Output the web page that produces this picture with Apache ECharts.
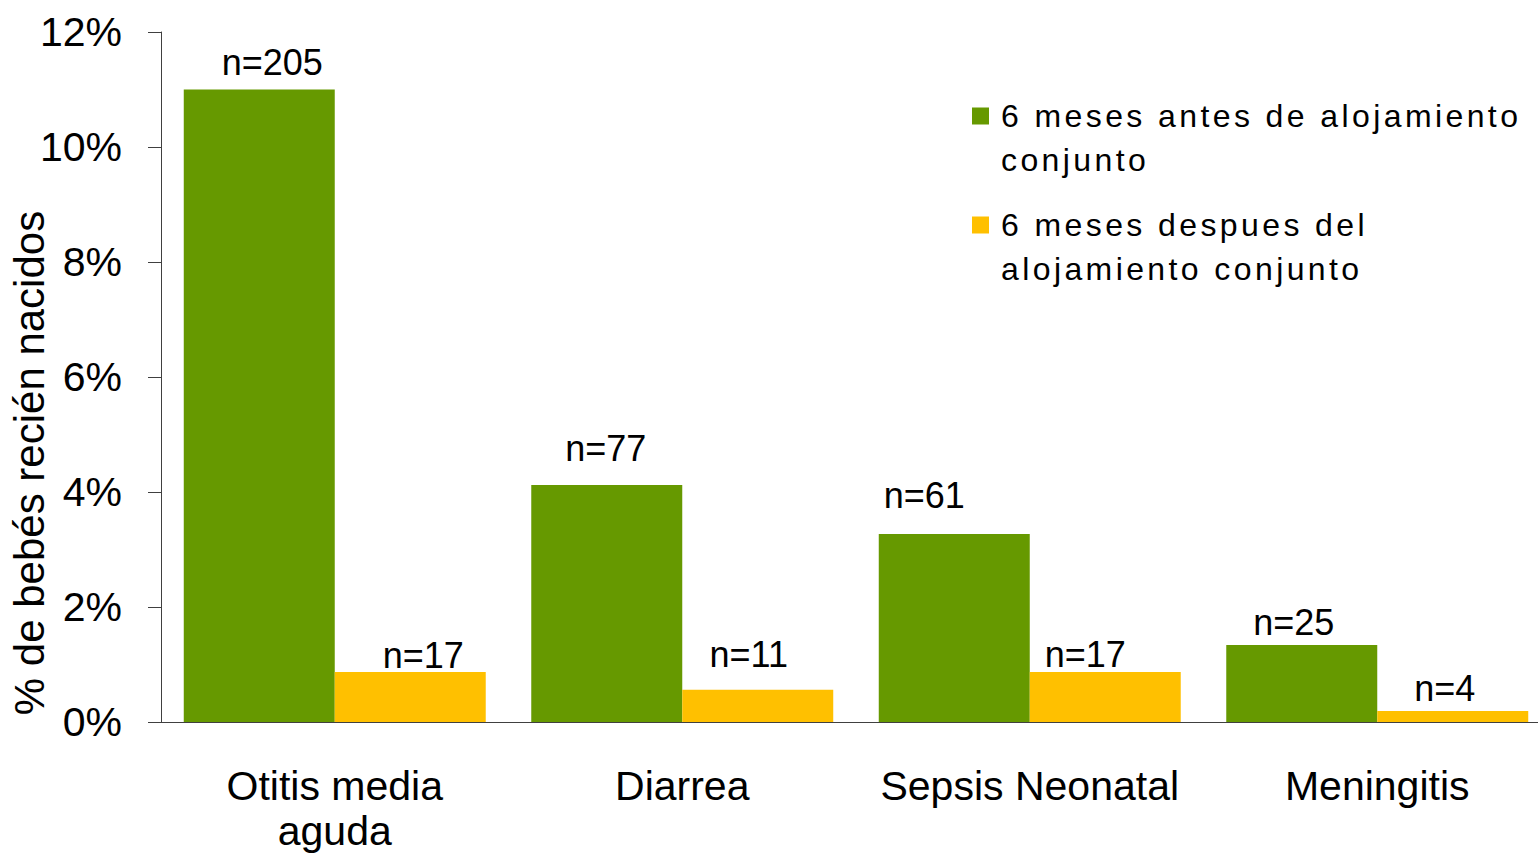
<!DOCTYPE html>
<html>
<head>
<meta charset="utf-8">
<script src="https://cdn.jsdelivr.net/npm/echarts@6.0.0/dist/echarts.min.js"></script>
<style>
  html, body { margin: 0; padding: 0; background: #fff; }
  #chart { width: 1538px; height: 853px; }
  /* legend text in the reference is letter-spaced */
  #chart text[style*="32px"] { letter-spacing: 3.4px; }
</style>
</head>
<body>
<div id="chart"></div>
<script>
// ---- data ----
const categories = ['Otitis media\naguda', 'Diarrea', 'Sepsis Neonatal', 'Meningitis'];
const seriesNames = ['6 meses antes de alojamiento conjunto', '6 meses despues del alojamiento conjunto'];
const before = [11.0, 4.12, 3.27, 1.34];   // % before
const after = [0.87, 0.56, 0.87, 0.19];    // % after
const nBefore = [205, 77, 61, 25];
const nAfter = [17, 11, 17, 4];
const yTicks = { min: 0, max: 12, interval: 2 };

// ---- label nudges (style only) ----
const shiftBefore = [[13, -9], [-1, -19], [-30, -20], [-8, -4]];
const shiftAfter = [[13, 2], [-9, -17], [-20, 1], [-8, -5]];

const FONT = 'Liberation Sans';
// leading empty line keeps the marker level with the first text line
const legendLines = {
  [seriesNames[0]]: '\n6 meses antes de alojamiento\nconjunto',
  [seriesNames[1]]: '\n6 meses despues del\nalojamiento conjunto'
};

function buildData(vals, ns, shifts) {
  return vals.map((v, i) => ({
    value: v,
    label: { offset: shifts[i], formatter: 'n=' + ns[i] }
  }));
}

const chart = echarts.init(document.getElementById('chart'), null, { renderer: 'svg' });
const axisColor = '#404040';
chart.setOption({
  animation: false,
  backgroundColor: '#fff',
  textStyle: { fontFamily: FONT },
  grid: { left: 161, top: 32, width: 1390, height: 690, outerBoundsMode: 'none', containLabel: false },
  legend: {
    orient: 'vertical',
    left: 972,
    top: 50,
    padding: 0,
    itemWidth: 17,
    itemHeight: 17,
    itemGap: -23,
    icon: 'rect',
    selectedMode: false,
    formatter: name => legendLines[name],
    textStyle: {
      fontFamily: FONT, fontSize: 32, lineHeight: 44, color: '#000',
      padding: [0, 0, 0, 7]
    },
    data: seriesNames
  },
  graphic: [{
    type: 'text',
    x: 29, y: 463,
    rotation: Math.PI / 2,
    style: {
      text: '% de bebés recién nacidos',
      fontFamily: FONT, fontSize: 42, fill: '#000',
      textAlign: 'center', textVerticalAlign: 'middle',
      align: 'center', verticalAlign: 'middle'
    }
  }],
  xAxis: {
    type: 'category',
    data: categories,
    axisLine: { lineStyle: { color: axisColor, width: 1 } },
    axisTick: { show: false },
    axisLabel: { interval: 0, fontFamily: FONT, fontSize: 41, lineHeight: 45, margin: 41, color: '#000' },
    splitLine: { show: false }
  },
  yAxis: {
    type: 'value',
    min: yTicks.min, max: yTicks.max, interval: yTicks.interval,
    axisLine: { show: true, lineStyle: { color: axisColor, width: 1 } },
    axisTick: { show: true, length: 13, lineStyle: { color: axisColor } },
    axisLabel: { formatter: '{value}%', fontFamily: FONT, fontSize: 41, margin: 39, color: '#000' },
    splitLine: { show: false }
  },
  series: [
    {
      name: seriesNames[0], type: 'bar',
      data: buildData(before, nBefore, shiftBefore),
      itemStyle: { color: '#669900' },
      barGap: '0%', barCategoryGap: '13.1%',
      label: { show: true, position: 'top', distance: 0, fontFamily: FONT, fontSize: 36, color: '#000' }
    },
    {
      name: seriesNames[1], type: 'bar',
      data: buildData(after, nAfter, shiftAfter),
      itemStyle: { color: '#FFC000' },
      barGap: '0%', barCategoryGap: '13.1%',
      label: { show: true, position: 'top', distance: 0, fontFamily: FONT, fontSize: 36, color: '#000' }
    }
  ]
});
</script>
</body>
</html>
